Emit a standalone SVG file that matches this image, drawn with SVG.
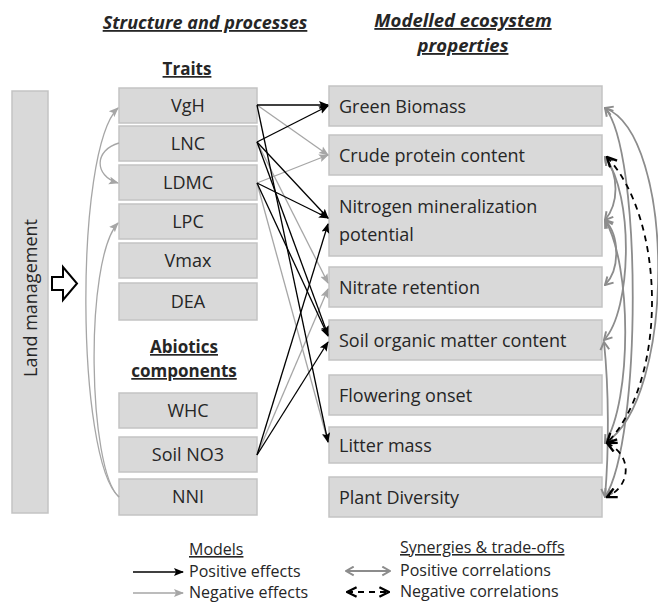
<svg xmlns="http://www.w3.org/2000/svg" width="658" height="602" viewBox="0 0 658 602">
<style>
.box{fill:#d9d9d9;stroke:#c3c3c3;stroke-width:1.5}
.t{font-family:"Open Sans","Noto Sans",sans-serif;font-size:18px;fill:#262626}
.c{text-anchor:middle}
.h{font-family:"Open Sans","Noto Sans",sans-serif;font-weight:bold;fill:#262626;text-decoration:underline}
.lg{font-family:"Open Sans","Noto Sans",sans-serif;font-size:16px;fill:#262626}
.pos{fill:none;stroke:#000;stroke-width:1.3;marker-end:url(#ab)}
.neg{fill:none;stroke:#a6a6a6;stroke-width:1.3;marker-end:url(#ag)}
.cor{fill:none;stroke:#8c8c8c;stroke-width:1.8;marker-start:url(#cg);marker-end:url(#cg)}
.ncor{fill:none;stroke:#000;stroke-width:1.8;stroke-dasharray:6,5;marker-start:url(#cb);marker-end:url(#cb)}
</style>
<defs>
<marker id="ab" viewBox="0 0 10 10" refX="9" refY="5" markerWidth="10" markerHeight="10" markerUnits="userSpaceOnUse" orient="auto"><path d="M0,1 L10,5 L0,9 L2,5 z" fill="#000"/></marker>
<marker id="ag" viewBox="0 0 10 10" refX="9" refY="5" markerWidth="10" markerHeight="10" markerUnits="userSpaceOnUse" orient="auto"><path d="M0,1 L10,5 L0,9 L2,5 z" fill="#a6a6a6"/></marker>
<marker id="cg" viewBox="0 0 10 10" refX="9" refY="5" markerWidth="11" markerHeight="11" markerUnits="userSpaceOnUse" orient="auto-start-reverse"><path d="M2,1 L9,5 L2,9" fill="none" stroke="#8c8c8c" stroke-width="1.8"/></marker>
<marker id="cb" viewBox="0 0 10 10" refX="9" refY="5" markerWidth="12" markerHeight="12" markerUnits="userSpaceOnUse" orient="auto-start-reverse"><path d="M1,1 L9,5 L1,9" fill="none" stroke="#000" stroke-width="2"/></marker>
</defs>
<rect width="658" height="602" fill="#fff"/>

<!-- headings -->
<text class="h" x="205" y="29" text-anchor="middle" font-size="18" font-style="italic">Structure and processes</text>
<text class="h" x="463" y="27" text-anchor="middle" font-size="18.5" font-style="italic">Modelled ecosystem</text>
<text class="h" x="463" y="52" text-anchor="middle" font-size="18.5" font-style="italic">properties</text>
<text class="h" x="187" y="75" text-anchor="middle" font-size="17">Traits</text>
<text class="h" x="184" y="353" text-anchor="middle" font-size="17">Abiotics </text>
<text class="h" x="184" y="377" text-anchor="middle" font-size="17">components</text>

<!-- land management -->
<g id="land">
<rect class="box" x="12" y="91" width="36" height="422"/>
<text class="t c" x="36.5" y="298" transform="rotate(-90 36.5 298)" font-size="18.5">Land management</text>
</g>
<g id="bigarrow">
<polygon points="52,277 63,277 63,267 77,283.5 63,300 63,290 52,290" fill="#fff" stroke="#000" stroke-width="2" stroke-linejoin="miter"/>
</g>

<!-- left nodes -->
<g id="VgH"><rect class="box" x="119" y="88" width="138" height="35"/><text class="t c" x="188" y="112">VgH</text></g>
<g id="LNC"><rect class="box" x="119" y="126" width="138" height="35"/><text class="t c" x="188" y="150">LNC</text></g>
<g id="LDMC"><rect class="box" x="119" y="165" width="138" height="35"/><text class="t c" x="188" y="189">LDMC</text></g>
<g id="LPC"><rect class="box" x="119" y="204" width="138" height="35"/><text class="t c" x="188" y="228">LPC</text></g>
<g id="Vmax"><rect class="box" x="119" y="243" width="138" height="35"/><text class="t c" x="188" y="267">Vmax</text></g>
<g id="DEA"><rect class="box" x="119" y="283" width="138" height="37"/><text class="t c" x="188" y="308">DEA</text></g>
<g id="WHC"><rect class="box" x="119" y="393" width="138" height="35"/><text class="t c" x="188" y="417">WHC</text></g>
<g id="SoilNO3"><rect class="box" x="119" y="437" width="138" height="35"/><text class="t c" x="188" y="461">Soil NO3</text></g>
<g id="NNI"><rect class="box" x="119" y="479" width="138" height="36"/><text class="t c" x="188" y="503">NNI</text></g>

<!-- right nodes -->
<g id="GB"><rect class="box" x="329" y="86" width="273" height="40"/><text class="t" x="339" y="113" font-size="18.5">Green Biomass</text></g>
<g id="CP"><rect class="box" x="329" y="135" width="273" height="40"/><text class="t" x="339" y="162" font-size="18.5">Crude protein content</text></g>
<g id="NMP"><rect class="box" x="329" y="186" width="273" height="70"/><text class="t" x="339" y="213" font-size="18.5">Nitrogen mineralization</text><text class="t" x="339" y="241" font-size="18.5">potential</text></g>
<g id="NR"><rect class="box" x="329" y="267" width="273" height="40"/><text class="t" x="339" y="294" font-size="18.5">Nitrate retention</text></g>
<g id="SOM"><rect class="box" x="329" y="320" width="273" height="40"/><text class="t" x="339" y="347" font-size="18.5">Soil organic matter content</text></g>
<g id="FO"><rect class="box" x="329" y="375" width="273" height="40"/><text class="t" x="339" y="402" font-size="18.5">Flowering onset</text></g>
<g id="LM"><rect class="box" x="329" y="427" width="273" height="36"/><text class="t" x="339" y="452" font-size="18.5">Litter mass</text></g>
<g id="PD"><rect class="box" x="329" y="477" width="273" height="40"/><text class="t" x="339" y="504" font-size="18.5">Plant Diversity</text></g>

<!-- connectors -->
<g id="connectors">
<!-- left-side effects -->
<path class="neg" d="M119,497 C76,460 74,150 118,108"/>
<path class="neg" d="M119,497 C88,470 84,260 118,223"/>
<path class="neg" d="M119,143 C94,150 94,176 118,183"/>
<!-- models: negative (gray) -->
<path class="neg" d="M257,105 L328,155"/>
<path class="neg" d="M257,183 L328,155"/>
<path class="neg" d="M257,142 L328,283"/>
<path class="neg" d="M257,455 L328,289"/>
<path class="neg" d="M257,183 L328,442"/>
<!-- models: positive (black) -->
<path class="pos" d="M257,105 L328,105"/>
<path class="pos" d="M257,142 L328,106"/>
<path class="pos" d="M257,142 L328,218"/>
<path class="pos" d="M257,183 L328,218"/>
<path class="pos" d="M257,455 L328,224"/>
<path class="pos" d="M257,142 L328,335"/>
<path class="pos" d="M257,183 L328,336"/>
<path class="pos" d="M257,455 L328,342"/>
<path class="pos" d="M257,105 L328,442"/>
<!-- correlations -->
<path class="cor" d="M605,108 C676,135 676,400 605,443"/>
<path class="cor" d="M605,108 C642,150 642,440 605,497"/>
<path class="cor" d="M605,157 C619,175 619,203 605,220"/>
<path class="cor" d="M605,157 C634,195 632,310 604,340"/>
<path class="cor" d="M605,220 C620,236 620,270 605,285"/>
<path class="cor" d="M605,220 C632,265 632,400 605,443"/>
<path class="cor" d="M604,342 C609,390 609,450 605,497"/>
<path class="ncor" d="M607,157 C666,220 668,380 607,443"/>
<path class="ncor" d="M607,443 C632,455 632,485 607,497"/>
</g>

<!-- legend -->
<g id="legend">
<text class="lg" x="189" y="555" text-decoration="underline">Models</text>
<path class="pos" d="M133,572 L183,572"/>
<text class="lg" x="189" y="577">Positive effects</text>
<path class="neg" d="M133,593 L183,593"/>
<text class="lg" x="189" y="598">Negative effects</text>
<text class="lg" x="400" y="553" text-decoration="underline">Synergies &amp; trade-offs</text>
<path class="cor" d="M346,571 L390,571"/>
<text class="lg" x="400" y="576">Positive correlations</text>
<path class="ncor" d="M347,592 L389,592" stroke-dasharray="8,6"/>
<text class="lg" x="400" y="597">Negative correlations</text>
</g>
</svg>
